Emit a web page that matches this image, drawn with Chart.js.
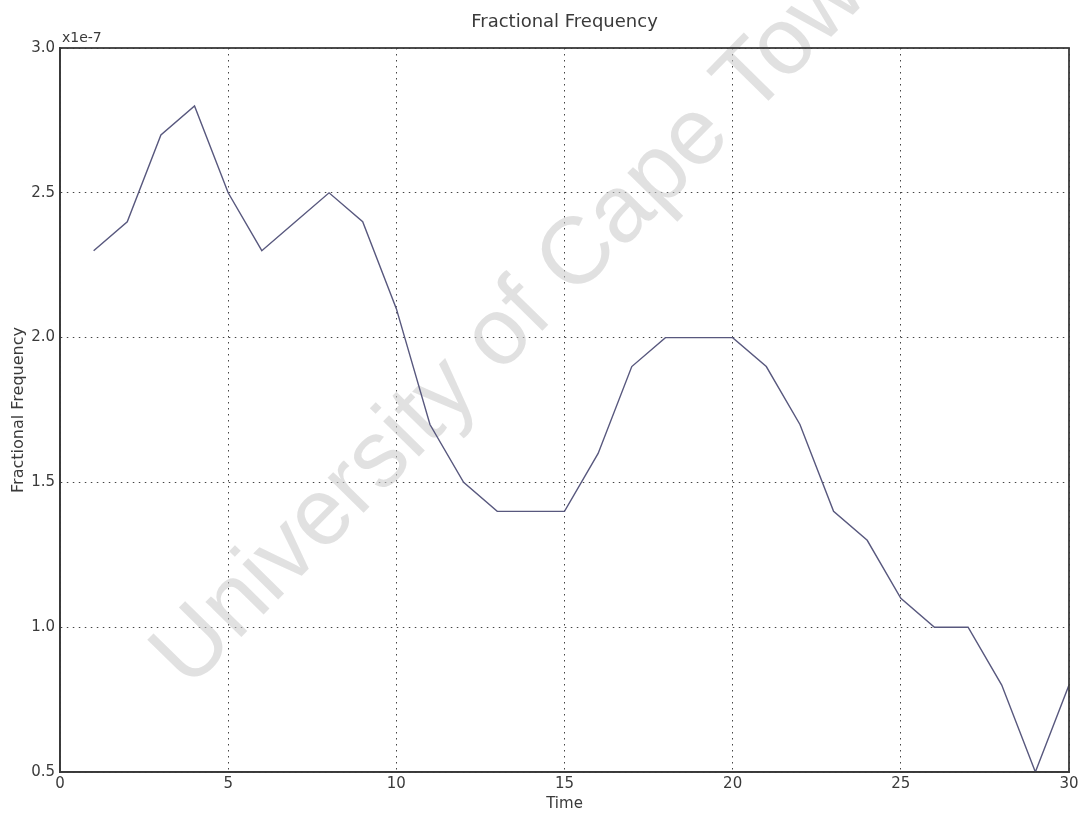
<!DOCTYPE html>
<html>
<head>
<meta charset="utf-8">
<script src="https://cdn.jsdelivr.net/npm/chart.js@4.4.1/dist/chart.umd.min.js"></script>
<style>
  html, body { margin: 0; padding: 0; background: #fff; }
  #wrap { width: 1082px; height: 813px; }
</style>
</head>
<body>
<div id="wrap"><canvas id="freqChart"></canvas></div>
<script>
// time axis and fractional frequency (in units of 1e-7)
const times = [1, 2, 3, 4, 5, 6, 7, 8, 9, 10, 11, 12, 13, 14, 15,
               16, 17, 18, 19, 20, 21, 22, 23, 24, 25, 26, 27, 28, 29, 30];
const fracFreq = [2.3, 2.4, 2.7, 2.8, 2.5, 2.3, 2.4, 2.5, 2.4, 2.1,
                  1.7, 1.5, 1.4, 1.4, 1.4, 1.6, 1.9, 2.0, 2.0, 2.0,
                  1.9, 1.7, 1.4, 1.3, 1.1, 1.0, 1.0, 0.8, 0.5, 0.8];
const xTicks = [0, 5, 10, 15, 20, 25, 30];
const yTicks = [0.5, 1.0, 1.5, 2.0, 2.5, 3.0];

const tickFont = { family: "DejaVu Sans", size: 15 };
const textColor = "#3a3a3a";

// title over the plot box, frame, exponent label and watermark
const extras = {
    id: "extras",
    beforeDatasetsDraw(chart) {
        const ctx = chart.ctx;
        ctx.save();
        ctx.translate(529, 307);
        ctx.rotate(-45.5 * Math.PI / 180);
        ctx.font = "95px 'Liberation Sans'";
        ctx.fillStyle = "rgba(200,200,200,0.55)";
        ctx.textAlign = "center";
        ctx.textBaseline = "middle";
        ctx.fillText("University of Cape Town", 0, 0);
        ctx.restore();
    },
    afterDraw(chart) {
        const ctx = chart.ctx;
        const a = chart.chartArea;
        ctx.save();
        ctx.strokeStyle = "#3a3a3a";
        ctx.lineWidth = 1.8;
        ctx.strokeRect(a.left, a.top, a.right - a.left, a.bottom - a.top);
        ctx.fillStyle = textColor;
        ctx.font = "18px 'DejaVu Sans'";
        ctx.textAlign = "center";
        ctx.textBaseline = "middle";
        ctx.fillText("Fractional Frequency", (a.left + a.right) / 2, 22);
        ctx.font = "14px 'DejaVu Sans'";
        ctx.textAlign = "left";
        ctx.textBaseline = "bottom";
        ctx.fillText("x1e-7", a.left + 2, a.top - 3);
        ctx.restore();
    }
};

new Chart(document.getElementById("freqChart"), {
    type: "line",
    data: {
        datasets: [{
            label: "Fractional Frequency",
            data: times.map((t, i) => ({ x: t, y: fracFreq[i] })),
            borderColor: "#58587e",
            borderWidth: 1.4,
            pointRadius: 0,
            tension: 0,
            fill: false
        }]
    },
    options: {
        responsive: true,
        maintainAspectRatio: false,
        animation: false,
        layout: { padding: { left: 0, right: 13, top: 48, bottom: 0 } },
        plugins: {
            legend: { display: false },
            tooltip: { enabled: false },
            title: { display: false }
        },
        scales: {
            x: {
                type: "linear",
                min: 0,
                max: 30,
                afterBuildTicks: scale => { scale.ticks = xTicks.map(v => ({ value: v })); },
                afterFit: scale => { scale.height = 41; },
                ticks: { color: textColor, font: tickFont, padding: 3, maxRotation: 0 },
                grid: { color: "#444", drawTicks: false },
                border: { display: true, color: "#3a3a3a", width: 1.8, dash: [1.5, 4.5] },
                title: {
                    display: true, text: "Time", color: textColor,
                    font: tickFont, padding: { top: 0, bottom: 0 }
                }
            },
            y: {
                min: 0.5,
                max: 3.0,
                afterBuildTicks: scale => { scale.ticks = yTicks.map(v => ({ value: v })); },
                afterFit: scale => { scale.width = 60; },
                ticks: {
                    color: textColor, font: tickFont, padding: 5,
                    callback: v => v.toFixed(1)
                },
                grid: { color: "#444", drawTicks: false },
                border: { display: true, color: "#3a3a3a", width: 1.8, dash: [1.5, 4.5] },
                title: {
                    display: true, text: "Fractional Frequency", color: textColor,
                    font: { family: "DejaVu Sans", size: 16 }, padding: { top: 9, bottom: 0 }
                }
            }
        }
    },
    plugins: [extras]
});
</script>
</body>
</html>
